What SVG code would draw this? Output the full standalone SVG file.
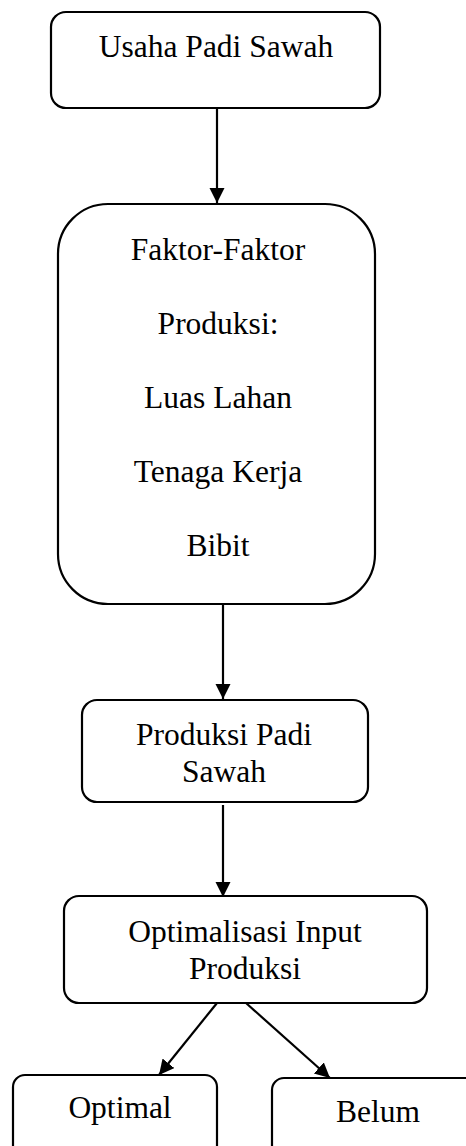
<svg xmlns="http://www.w3.org/2000/svg" width="466" height="1146" viewBox="0 0 466 1146">
<style>
.box{fill:#fff;stroke:#000;stroke-width:2.2}
.t{font-family:"Liberation Serif","Times New Roman",serif;font-size:31.5px;fill:#000;text-anchor:middle}
.c{stroke:#000;stroke-width:2.2;fill:none}
</style>
<defs>
<marker id="ah" markerUnits="userSpaceOnUse" markerWidth="16" markerHeight="16" refX="15" refY="7.5" orient="auto">
<path d="M0,0 L15,7.5 L0,15 z" fill="#000"/>
</marker>
</defs>
<rect width="466" height="1146" fill="#fff"/>
<g id="connectors">
<line class="c" x1="217" y1="109" x2="217" y2="203" marker-end="url(#ah)"/>
<line class="c" x1="223" y1="598" x2="223" y2="699" marker-end="url(#ah)"/>
<line class="c" x1="223" y1="805" x2="223" y2="897" marker-end="url(#ah)"/>
<line class="c" x1="217" y1="1003" x2="159" y2="1075" marker-end="url(#ah)"/>
<line class="c" x1="246" y1="1003" x2="330" y2="1078" marker-end="url(#ah)"/>
</g>
<g id="usaha">
<rect class="box" x="51" y="12" width="329" height="96" rx="15"/>
<text class="t" x="216" y="57">Usaha Padi Sawah</text>
</g>
<g id="faktor">
<rect class="box" x="58" y="204" width="317" height="400" rx="50"/>
<text class="t" x="218" y="260">Faktor-Faktor</text>
<text class="t" x="218" y="334">Produksi:</text>
<text class="t" x="218" y="408">Luas Lahan</text>
<text class="t" x="218" y="482">Tenaga Kerja</text>
<text class="t" x="218" y="556">Bibit</text>
</g>
<g id="produksi">
<rect class="box" x="82" y="700" width="286" height="102" rx="15"/>
<text class="t" x="224" y="745">Produksi Padi</text>
<text class="t" x="224" y="782">Sawah</text>
</g>
<g id="optimalisasi">
<rect class="box" x="64" y="896" width="363" height="107" rx="15"/>
<text class="t" x="245" y="942">Optimalisasi Input</text>
<text class="t" x="245" y="979">Produksi</text>
</g>
<g id="optimal">
<rect class="box" x="13" y="1075" width="204" height="90" rx="12"/>
<text class="t" x="120" y="1118">Optimal</text>
</g>
<g id="belum">
<rect class="box" x="272" y="1078" width="210" height="90" rx="12"/>
<text class="t" x="378" y="1122">Belum</text>
</g>
</svg>
